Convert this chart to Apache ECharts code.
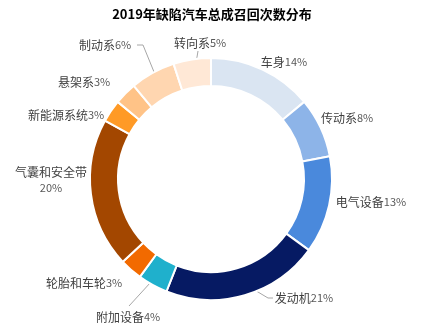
<!DOCTYPE html>
<html><head><meta charset="utf-8">
<script src="https://cdn.jsdelivr.net/npm/echarts@6/dist/echarts.min.js"></script>
<style>html,body{margin:0;padding:0;background:#fff}#c{width:424px;height:327px}</style>
</head><body><div id="c"></div>
<script>
const categories = ['车身','传动系','电气设备','发动机','附加设备','轮胎和车轮','气囊和安全带','新能源系统','悬架系','制动系','转向系'];
const values = [14, 8, 13, 21, 4, 3, 20, 3, 3, 6, 5];
const colors = ['#dae5f2','#8db4e8','#4a89dc','#061a63','#1fb0cc','#f26a00','#a34700','#ff9a26','#ffc387','#ffd6b0','#ffe8d6'];
const title = '2019年缺陷汽车总成召回次数分布';

// label layout (text centres) and leader-line ends
const CX = 211, CY = 179, R0 = 93, R1 = 121;
const labelX = [284, 347, 371, 304, 128, 84, 51, 66, 84, 105, 200];
const labelY = [62, 118, 202, 298, 317, 283, 180, 115, 82, 45, 43];
const lineEnds = {
  2: [[330, 201]],
  3: [[268, 298], [273, 298]],
  4: [[129, 306]],
  9: [[143, 45], [137, 45]],
  10: [[198, 51]]
};
const total = values.reduce((a, b) => a + b, 0);
function midPoint(i, r) {
  let before = 0;
  for (let k = 0; k < i; k++) before += values[k];
  const a = (before + values[i] / 2) / total * 2 * Math.PI;
  return [CX + r * Math.sin(a), CY - r * Math.cos(a)];
}

const chart = echarts.init(document.getElementById('c'));
chart.setOption({
  animation: false,
  title: { text: title, left: 'center', top: 3,
    textStyle: { fontSize: 13, fontWeight: 'bold', color: '#000', fontFamily: 'Noto Sans CJK SC' } },
  series: [{
    type: 'pie',
    center: [CX, CY],
    radius: [R0, R1],
    startAngle: 90,
    clockwise: true,
    data: categories.map((c, i) => ({
      name: c, value: values[i], itemStyle: { color: colors[i] },
      labelLine: { show: !!lineEnds[i] }
    })),
    itemStyle: { borderColor: '#fff', borderWidth: 2 },
    label: {
      show: true,
      position: 'outside',
      overflow: 'none',
      color: '#404040',
      fontFamily: 'Noto Sans CJK SC',
      formatter: p => p.name === '气囊和安全带' ? '{n|' + p.name + '}\n{v|' + p.value + '%}' : '{n|' + p.name + '}{v|' + p.value + '%}',
      rich: {
        n: { fontSize: 12, color: '#404040', fontFamily: 'Noto Sans CJK SC', lineHeight: 16 },
        v: { fontSize: 11, color: '#595959', fontFamily: 'Noto Sans CJK SC', lineHeight: 16 }
      }
    },
    labelLine: { show: true, length: 8, length2: 10, lineStyle: { color: '#a6a6a6', width: 1 } },
    labelLayout: function (params) {
      const i = params.dataIndex;
      const res = { x: labelX[i], y: labelY[i], align: 'center', verticalAlign: 'middle', hideOverlap: false };
      if (lineEnds[i]) {
        res.labelLinePoints = [midPoint(i, (R0 + R1) / 2)].concat(lineEnds[i]);
      }
      return res;
    }
  }]
});
</script></body></html>
